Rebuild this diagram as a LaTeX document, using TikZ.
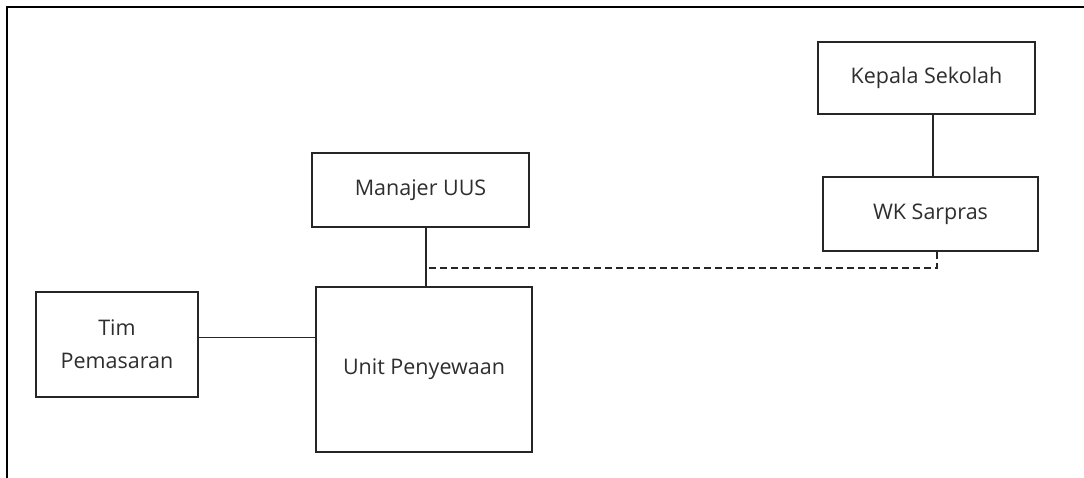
\documentclass[tikz,border=0pt]{standalone}
\usepackage{fontspec}
\setmainfont{Open Sans}
\usetikzlibrary{positioning}
\begin{document}
\begin{tikzpicture}[x=1pt,y=-1pt,
  box/.style={draw=black!85,line width=1.9pt,minimum width=#1,inner sep=0pt,text=black!82,font=\fontsize{21.5}{33}\selectfont,align=center},
  link/.style={draw=black!85,line width=1.8pt},
  dlink/.style={draw=black!85,line width=1.8pt,dash pattern=on 7pt off 4pt}]
\useasboundingbox (0,0) rectangle (1084,478);
\draw[line width=2.6pt] (7,478) -- (7,7) -- (1084,7);
\node[box=217pt,minimum height=72pt] (kep) at (926.5,78) {Kepala Sekolah};
\node[box=215pt,minimum height=74pt] (wk) at (930.5,214) {WK Sarpras};
\node[box=217pt,minimum height=74pt] (man) at (420.5,190) {Manajer UUS};
\node[box=216pt,minimum height=165pt] (unit) at (424,369.5) {Unit Penyewaan};
\node[box=162pt,minimum height=105pt] (tim) at (117,344.5) {Tim\\Pemasaran};
\coordinate (j) at (426,268);
\draw[link] ([xshift=2pt]unit.north) -- ([xshift=2pt]unit.north |- man.south);
\draw[link] ([xshift=2.5pt]wk.north) -- ([xshift=2.5pt]wk.north |- kep.south);
\draw[link] ([yshift=7pt]tim.east) -- ([yshift=7pt]tim.east -| unit.west);
\draw[dlink] ([xshift=6.5pt]wk.south) |- (j);
\end{tikzpicture}
\end{document}
